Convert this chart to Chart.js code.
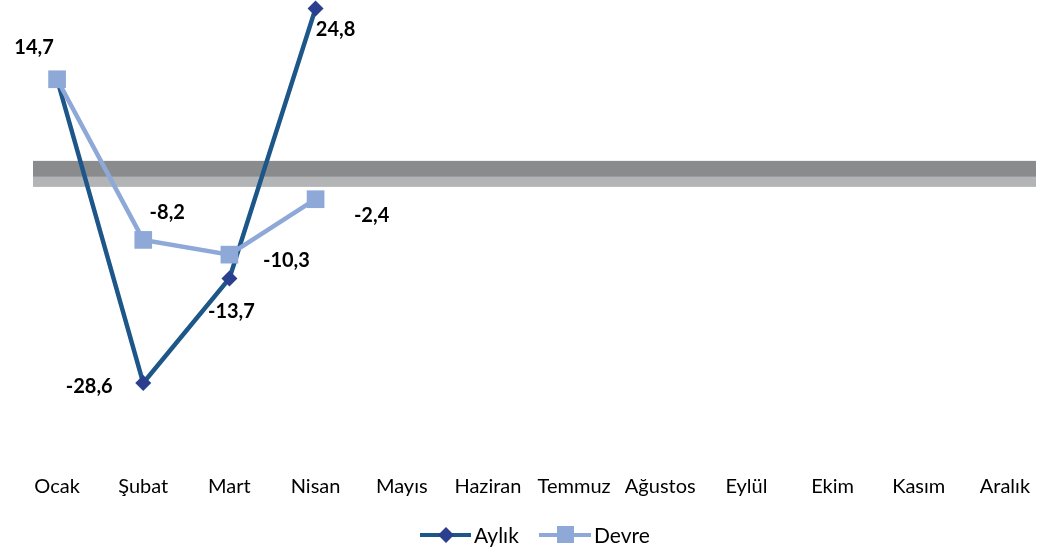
<!DOCTYPE html>
<html>
<head>
<meta charset="utf-8">
<script src="https://cdn.jsdelivr.net/npm/chart.js@4.4.1/dist/chart.umd.min.js"></script>
<style>
html,body{margin:0;padding:0;background:#fff;}
canvas{display:block;}
</style>
</head>
<body>
<canvas id="c" width="1052" height="551"></canvas>
<script>
const categories = ['Ocak','Şubat','Mart','Nisan','Mayıs','Haziran','Temmuz','Ağustos','Eylül','Ekim','Kasım','Aralık'];
const aylik = [14.7, -28.6, -13.7, 24.8, null, null, null, null, null, null, null, null];
const devre = [14.7, -8.2, -10.3, -2.4, null, null, null, null, null, null, null, null];
const seriesNames = ['Aylık', 'Devre'];

// label placement offsets (style only)
const aylikLabelOffsets = [[-23,-32],[-54,4],[2,33],[20,21]];
const devreLabelOffsets = [null,[24,-27],[57,6],[56,16]];

const fmt = v => v.toFixed(1).replace('.', ',');
const FONT = 'Lato, "Liberation Sans", sans-serif';

const bandPlugin = {
  id: 'band',
  beforeDatasetsDraw(chart) {
    const {ctx} = chart;
    const y0 = chart.scales.y.getPixelForValue(0);
    ctx.save();
    ctx.fillStyle = '#8a8b8d';
    ctx.fillRect(33, y0 - 21.5, 1003, 16);
    ctx.fillStyle = '#b3b4b6';
    ctx.fillRect(33, y0 - 5.5, 1003, 10);
    ctx.restore();
  }
};

const labelPlugin = {
  id: 'labels',
  afterDatasetsDraw(chart) {
    const {ctx} = chart;
    const offs = [aylikLabelOffsets, devreLabelOffsets];
    ctx.save();
    ctx.font = 'bold 20px ' + FONT;
    ctx.fillStyle = '#000';
    ctx.textAlign = 'center';
    ctx.textBaseline = 'middle';
    chart.data.datasets.forEach((ds, i) => {
      const meta = chart.getDatasetMeta(i);
      ds.data.forEach((v, j) => {
        if (v === null) return;
        const o = offs[i][j];
        if (!o) return;
        const p = meta.data[j];
        ctx.fillText(fmt(v), p.x + o[0], p.y + o[1]);
      });
    });
    ctx.restore();
  }
};

const legendPlugin = {
  id: 'customLegend',
  afterDraw(chart) {
    const {ctx} = chart;
    const y = 535;
    ctx.save();
    ctx.lineWidth = 4;
    // Aylık
    ctx.strokeStyle = '#1d5789';
    ctx.beginPath(); ctx.moveTo(420, y); ctx.lineTo(471, y); ctx.stroke();
    ctx.fillStyle = '#2b3f8f';
    ctx.beginPath(); ctx.moveTo(446, y-8); ctx.lineTo(454, y); ctx.lineTo(446, y+8); ctx.lineTo(438, y); ctx.closePath(); ctx.fill();
    // Devre
    ctx.strokeStyle = '#8ea8d8';
    ctx.beginPath(); ctx.moveTo(539, y); ctx.lineTo(591, y); ctx.stroke();
    ctx.fillStyle = '#8ea8d8';
    ctx.fillRect(557, y-9, 17, 17);
    ctx.fillStyle = '#000';
    ctx.font = '21px ' + FONT;
    ctx.textBaseline = 'middle';
    ctx.textAlign = 'left';
    ctx.fillText(seriesNames[0], 474, y+1);
    ctx.fillText(seriesNames[1], 594, y+1);
    ctx.restore();
  }
};

new Chart(document.getElementById('c'), {
  type: 'line',
  data: {
    labels: categories,
    datasets: [
      {
        label: seriesNames[0], data: aylik, order: 1, clip: false,
        borderColor: '#1d5789', borderWidth: 4.5,
        pointStyle: 'rectRot', pointRadius: 8, pointBackgroundColor: '#2b3f8f', pointBorderWidth: 0,
        tension: 0, spanGaps: false
      },
      {
        label: seriesNames[1], data: devre, order: 0, clip: false,
        borderColor: '#8ea8d8', borderWidth: 4.5,
        pointStyle: 'rect', pointRadius: 12.5, pointBackgroundColor: '#8ea8d8', pointBorderWidth: 0,
        tension: 0, spanGaps: false
      }
    ]
  },
  options: {
    responsive: false,
    animation: false,
    layout: { autoPadding: false, padding: { left: 14, right: 4, top: 7, bottom: 40 } },
    plugins: { legend: { display: false }, tooltip: { enabled: false } },
    scales: {
      x: {
        offset: true,
        grid: { display: false, drawTicks: false, offset: true },
        border: { display: false },
        ticks: { color: '#000', font: { size: 20, family: FONT }, padding: 12, maxRotation: 0, autoSkip: false }
      },
      y: {
        display: false,
        min: -40, max: 25
      }
    }
  },
  plugins: [bandPlugin, labelPlugin, legendPlugin]
});
</script>
</body>
</html>
